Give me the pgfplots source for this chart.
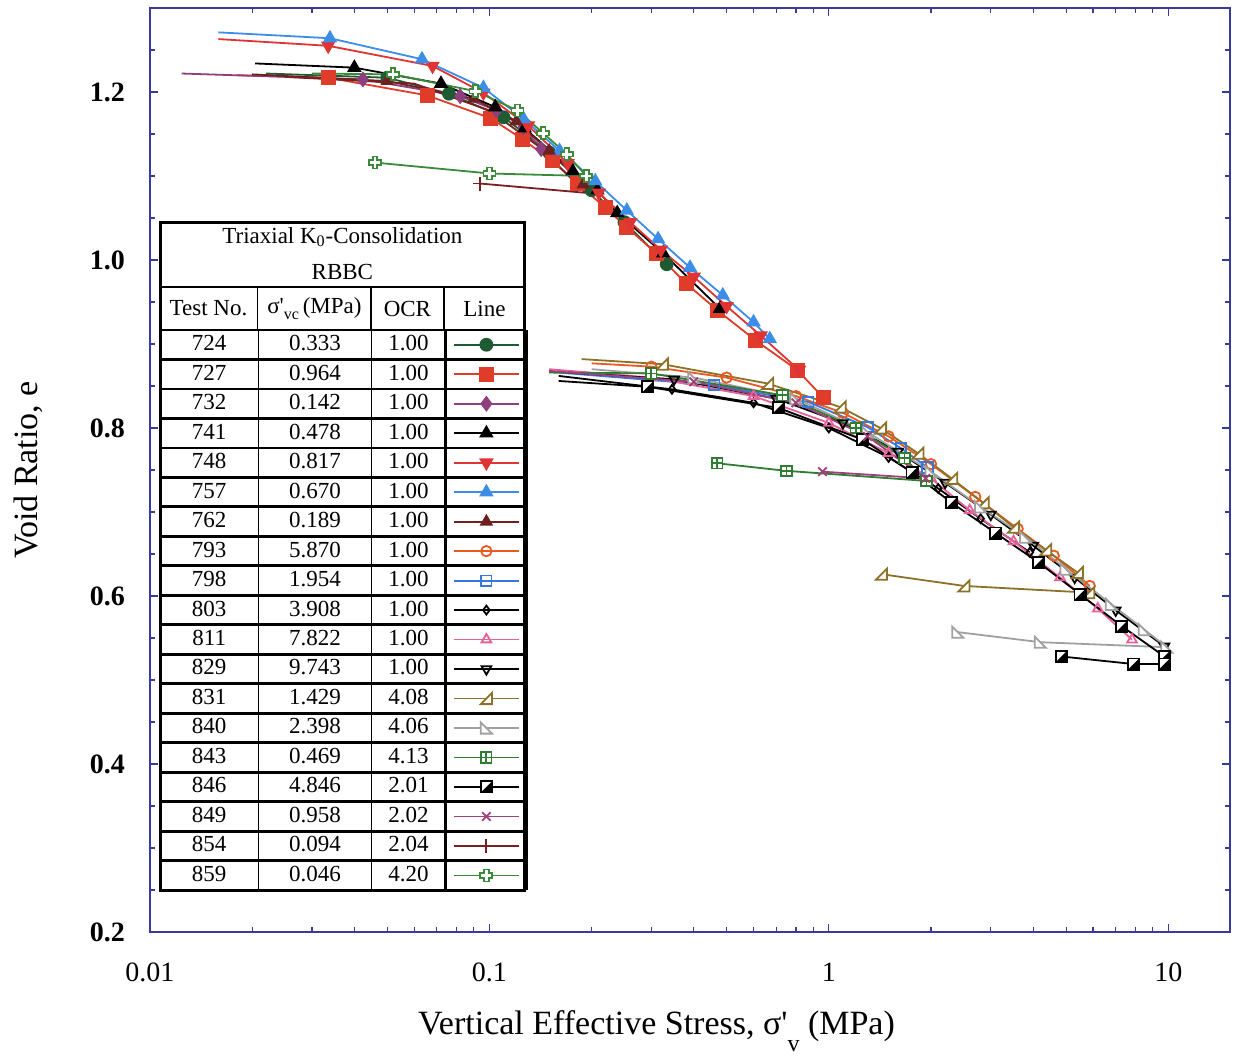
\documentclass[border=0pt]{standalone}
\usepackage{fontspec}
\setmainfont{Liberation Serif}
\usepackage{pgfplots}
\pgfplotsset{compat=1.18}

\definecolor{frame}{HTML}{3A3A9E}
\definecolor{c724}{HTML}{1E5A32}
\definecolor{c727}{HTML}{E03C2A}
\definecolor{c732}{HTML}{8E3F7E}
\definecolor{c748}{HTML}{E03434}
\definecolor{c757}{HTML}{3B8DE8}
\definecolor{c762}{HTML}{6E1F1F}
\definecolor{c793}{HTML}{E85A20}
\definecolor{c798}{HTML}{3478E0}
\definecolor{c811}{HTML}{E8609A}
\definecolor{c831}{HTML}{8C7228}
\definecolor{c840}{HTML}{A0A0A0}
\definecolor{c843}{HTML}{2E7D32}
\definecolor{c849}{HTML}{A0407A}
\definecolor{c854}{HTML}{7A2020}
\definecolor{c859}{HTML}{3A8A3A}

% extra mark shapes
\pgfdeclareplotmark{sqplus}{%
  \pgfpathrectangle{\pgfpoint{-\pgfplotmarksize}{-\pgfplotmarksize}}{\pgfpoint{2\pgfplotmarksize}{2\pgfplotmarksize}}%
  \pgfusepathqfillstroke
  \pgfpathmoveto{\pgfpoint{-\pgfplotmarksize}{0pt}}\pgfpathlineto{\pgfpoint{\pgfplotmarksize}{0pt}}%
  \pgfpathmoveto{\pgfpoint{0pt}{-\pgfplotmarksize}}\pgfpathlineto{\pgfpoint{0pt}{\pgfplotmarksize}}%
  \pgfusepathqstroke}
\pgfdeclareplotmark{halfsq}{%
  \pgfpathrectangle{\pgfpoint{-\pgfplotmarksize}{-\pgfplotmarksize}}{\pgfpoint{2\pgfplotmarksize}{2\pgfplotmarksize}}%
  \pgfusepathqfillstroke
  \pgfscope\pgfsetfillcolor{black}%
  \pgfpathmoveto{\pgfpoint{\pgfplotmarksize}{\pgfplotmarksize}}%
  \pgfpathlineto{\pgfpoint{\pgfplotmarksize}{-\pgfplotmarksize}}%
  \pgfpathlineto{\pgfpoint{-\pgfplotmarksize}{-\pgfplotmarksize}}%
  \pgfpathclose\pgfusepathqfill
  \endpgfscope}
\pgfdeclareplotmark{rtri}{%
  \pgfpathmoveto{\pgfpoint{-\pgfplotmarksize}{-\pgfplotmarksize}}%
  \pgfpathlineto{\pgfpoint{\pgfplotmarksize}{-\pgfplotmarksize}}%
  \pgfpathlineto{\pgfpoint{\pgfplotmarksize}{\pgfplotmarksize}}%
  \pgfpathclose\pgfusepathqfillstroke}
\pgfdeclareplotmark{ltri}{%
  \pgfpathmoveto{\pgfpoint{-\pgfplotmarksize}{\pgfplotmarksize}}%
  \pgfpathlineto{\pgfpoint{-\pgfplotmarksize}{-\pgfplotmarksize}}%
  \pgfpathlineto{\pgfpoint{\pgfplotmarksize}{-\pgfplotmarksize}}%
  \pgfpathclose\pgfusepathqfillstroke}
\pgfdeclareplotmark{pluso}{%
  \pgfpathmoveto{\pgfpoint{-0.38\pgfplotmarksize}{\pgfplotmarksize}}%
  \pgfpathlineto{\pgfpoint{0.38\pgfplotmarksize}{\pgfplotmarksize}}%
  \pgfpathlineto{\pgfpoint{0.38\pgfplotmarksize}{0.38\pgfplotmarksize}}%
  \pgfpathlineto{\pgfpoint{\pgfplotmarksize}{0.38\pgfplotmarksize}}%
  \pgfpathlineto{\pgfpoint{\pgfplotmarksize}{-0.38\pgfplotmarksize}}%
  \pgfpathlineto{\pgfpoint{0.38\pgfplotmarksize}{-0.38\pgfplotmarksize}}%
  \pgfpathlineto{\pgfpoint{0.38\pgfplotmarksize}{-\pgfplotmarksize}}%
  \pgfpathlineto{\pgfpoint{-0.38\pgfplotmarksize}{-\pgfplotmarksize}}%
  \pgfpathlineto{\pgfpoint{-0.38\pgfplotmarksize}{-0.38\pgfplotmarksize}}%
  \pgfpathlineto{\pgfpoint{-\pgfplotmarksize}{-0.38\pgfplotmarksize}}%
  \pgfpathlineto{\pgfpoint{-\pgfplotmarksize}{0.38\pgfplotmarksize}}%
  \pgfpathlineto{\pgfpoint{-0.38\pgfplotmarksize}{0.38\pgfplotmarksize}}%
  \pgfpathclose\pgfusepathqfillstroke}

% one table row of the legend: test no, stress, OCR
\newcommand{\trow}[3]{\rule[-4.05pt]{0pt}{14.04pt}\makebox[48.5pt]{#1}\vrule width 0.7pt\makebox[56pt]{#2}\vrule width 0.7pt\makebox[36pt]{#3}}

\begin{document}
\begin{tikzpicture}
\begin{axis}[
  scale only axis, width=540pt, height=462pt,
  xmode=log, xmin=0.01, xmax=15.2, ymin=0.2, ymax=1.3,
  xtick={0.01,0.1,1,10}, xticklabels={0.01,0.1,1,10},
  minor xtick={0.02,0.03,0.04,0.05,0.06,0.07,0.08,0.09,0.2,0.3,0.4,0.5,0.6,0.7,0.8,0.9,2,3,4,5,6,7,8,9},
  ytick={0.2,0.4,0.6,0.8,1.0,1.2}, yticklabels={0.2,0.4,0.6,0.8,1.0,1.2},
  minor ytick={0.25,0.3,0.35,0.45,0.5,0.55,0.65,0.7,0.75,0.85,0.9,0.95,1.05,1.1,1.15,1.25},
  axis line style={frame, line width=0.8pt},
  every tick/.style={frame, line width=0.6pt},
  major tick length=4pt, minor tick length=2.5pt,
  tick align=inside,
  xticklabel style={font=\fontsize{14}{16}\selectfont, yshift=-12pt},
  yticklabel style={font=\fontsize{14}{16}\selectfont\bfseries, xshift=-9pt},
  label style={font=\fontsize{17}{19}\selectfont},
  xlabel={Vertical Effective Stress, σ\textquotesingle\raisebox{-1.1ex}{\fontsize{12}{12}\selectfont v} (MPa)},
  ylabel={Void Ratio, e},
  xlabel style={at={(axis description cs:0.469,0)}, anchor=base, yshift=-51pt},
  ylabel style={at={(axis description cs:-0.113,0.5)}, anchor=center},
  legend plot pos=right,
  legend cell align=left,
  legend style={at={(0.00926,0.6515)}, anchor=north west, draw=none, fill=white,
    inner sep=0pt, outer sep=0pt, row sep=0pt, column sep=0pt,
    font=\fontsize{11.5}{13}\selectfont,
    nodes={inner sep=0pt, outer sep=0pt, draw=black, line width=0.7pt,
      text height=9.99pt, text depth=4.05pt}},
  every axis plot/.append style={line width=0.9pt,
    legend image code/.code={
      \draw[draw=black, line width=0.7pt, solid, fill=none, mark=none] (0pt,-7.02pt) rectangle (40.5pt,7.02pt);
      \draw[line width=0.9pt, mark indices={2}] plot coordinates {(4pt,0pt) (20.25pt,0pt) (36.5pt,0pt)};
    }},
]
% 724
\addplot[c724, mark=*, mark size=3pt, mark indices={2,3,4,5,6,7,8}] coordinates {
(0.022,1.222) (0.05,1.217) (0.076,1.198) (0.11,1.17) (0.15,1.128) (0.2,1.083) (0.25,1.045) (0.333,0.995)};
\addlegendentry{\trow{724}{0.333}{1.00}}
% 727
\addplot[c727, mark=square*, mark size=3.3pt, mark indices={2,3,4,5,6,7,8,9,10,11,12,13,14,15}] coordinates {
(0.018,1.22) (0.0335,1.217) (0.0655,1.196) (0.1005,1.169) (0.125,1.144) (0.153,1.118) (0.182,1.091) (0.22,1.062) (0.254,1.039) (0.31,1.008) (0.38,0.972) (0.47,0.94) (0.61,0.904) (0.807,0.869) (0.964,0.836)};
\addlegendentry{\trow{727}{0.964}{1.00}}
% 732
\addplot[c732, mark=diamond*, mark size=3.3pt, mark indices={2,3,4,5,6}] coordinates {
(0.0124,1.222) (0.0424,1.215) (0.082,1.195) (0.105,1.178) (0.126,1.158) (0.142,1.132)};
\addlegendentry{\trow{732}{0.142}{1.00}}
% 741
\addplot[black, mark=triangle*, mark size=3.3pt, mark indices={2,3,4,5,6,7,8,9,10}] coordinates {
(0.0204,1.234) (0.04,1.229) (0.072,1.21) (0.104,1.182) (0.127,1.157) (0.176,1.106) (0.208,1.083) (0.238,1.056) (0.325,1.008) (0.478,0.942)};
\addlegendentry{\trow{741}{0.478}{1.00}}
% 748
\addplot[c748, mark=triangle*, mark size=3.3pt, mark options={rotate=180}, mark indices={2,3,4,5,6,7,8,9,10,11,12,13}] coordinates {
(0.0159,1.263) (0.0335,1.255) (0.068,1.231) (0.096,1.199) (0.13,1.16) (0.17,1.115) (0.21,1.08) (0.26,1.045) (0.32,1.012) (0.4,0.98) (0.5,0.945) (0.63,0.91) (0.817,0.869)};
\addlegendentry{\trow{748}{0.817}{1.00}}
% 757
\addplot[c757, mark=triangle*, mark size=3.3pt, mark indices={2,3,4,5,6,7,8,9,10,11,12,13}] coordinates {
(0.0159,1.271) (0.0339,1.264) (0.0633,1.239) (0.096,1.205) (0.126,1.168) (0.161,1.13) (0.205,1.094) (0.254,1.059) (0.314,1.025) (0.39,0.991) (0.487,0.958) (0.6,0.926) (0.67,0.906)};
\addlegendentry{\trow{757}{0.670}{1.00}}
% 762
\addplot[c762, mark=triangle*, mark size=3pt, mark indices={2,3,4,5,6}] coordinates {
(0.02,1.221) (0.05,1.213) (0.09,1.192) (0.12,1.165) (0.15,1.13) (0.189,1.09)};
\addlegendentry{\trow{762}{0.189}{1.00}}
% 793
\addplot[c793, mark=o, mark size=2.6pt, mark options={fill=white}, mark indices={2,3,4,5,6,7,8,9,10,11}] coordinates {
(0.2,0.877) (0.3,0.873) (0.5,0.86) (0.8,0.838) (1.1,0.818) (1.5,0.79) (2.0,0.757) (2.7,0.718) (3.6,0.68) (4.6,0.648) (5.87,0.612)};
\addlegendentry{\trow{793}{5.870}{1.00}}
% 798
\addplot[c798, mark=square, mark size=2.6pt, mark options={fill=white}, mark indices={2,3,4,5,6}] coordinates {
(0.16,0.866) (0.46,0.851) (0.87,0.831) (1.3,0.801) (1.63,0.776) (1.954,0.753)};
\addlegendentry{\trow{798}{1.954}{1.00}}
% 803
\addplot[black, mark=diamond, mark size=2.2pt, mark options={fill=white}, mark indices={2,3,4,5,6,7,8}] coordinates {
(0.16,0.862) (0.345,0.846) (0.6,0.83) (1.0,0.8) (1.5,0.765) (2.1,0.728) (2.8,0.692) (3.908,0.652)};
\addlegendentry{\trow{803}{3.908}{1.00}}
% 811
\addplot[c811, mark=triangle, mark size=2.8pt, mark options={fill=white}, mark indices={2,3,4,5,6,7,8,9,10,11}] coordinates {
(0.15,0.87) (0.3,0.86) (0.6,0.838) (1.0,0.806) (1.5,0.77) (2.0,0.74) (2.6,0.702) (3.5,0.665) (4.8,0.622) (6.2,0.585) (7.822,0.548)};
\addlegendentry{\trow{811}{7.822}{1.00}}
% 829
\addplot[black, mark=triangle, mark size=2.8pt, mark options={fill=white, rotate=180}, mark indices={2,3,4,5,6,7,8,9,10,11}] coordinates {
(0.17,0.866) (0.35,0.858) (0.7,0.835) (1.1,0.806) (1.6,0.772) (2.2,0.735) (3.0,0.697) (4.0,0.66) (5.3,0.622) (7.0,0.583) (9.743,0.54)};
\addlegendentry{\trow{829}{9.743}{1.00}}
% 831
\addplot[c831, mark=rtri, mark size=2.8pt, mark options={fill=white}, mark indices={2,3,4,5,6,7,8,9,10,11,12,13,14}] coordinates {
(0.187,0.882) (0.323,0.876) (0.66,0.853) (1.08,0.825) (1.42,0.8) (1.83,0.77) (2.3,0.74) (2.85,0.711) (3.5,0.682) (4.35,0.655) (5.4,0.628) (5.83,0.604) (2.5,0.612) (1.429,0.626)};
\addlegendentry{\trow{831}{1.429}{4.08}}
% 840
\addplot[c840, mark=ltri, mark size=2.8pt, mark options={fill=white}, mark indices={2,3,4,5,6,7,8,9,10,11,12,13}] coordinates {
(0.2,0.87) (0.4,0.86) (0.8,0.835) (1.3,0.795) (2.0,0.748) (2.8,0.706) (3.8,0.67) (5.0,0.632) (6.8,0.59) (8.5,0.56) (9.9,0.539) (4.2,0.545) (2.398,0.557)};
\addlegendentry{\trow{840}{2.398}{4.06}}
% 843
\addplot[c843, mark=sqplus, mark size=2.6pt, mark options={fill=white}, mark indices={2,3,4,5,6,7,8}] coordinates {
(0.15,0.866) (0.3,0.865) (0.73,0.839) (1.2,0.8) (1.67,0.764) (1.94,0.737) (0.75,0.749) (0.469,0.758)};
\addlegendentry{\trow{843}{0.469}{4.13}}
% 846
\addplot[black, mark=halfsq, mark size=2.8pt, mark options={fill=white}, mark indices={2,3,4,5,6,7,8,9,10,11,12,13,14}] coordinates {
(0.16,0.856) (0.293,0.849) (0.71,0.824) (1.26,0.786) (1.76,0.747) (2.3,0.711) (3.1,0.675) (4.15,0.64) (5.5,0.602) (7.3,0.564) (9.74,0.528) (9.74,0.519) (7.9,0.519) (4.846,0.528)};
\addlegendentry{\trow{846}{4.846}{2.01}}
% 849
\addplot[c849, mark=x, mark size=3pt, mark indices={2,3,4,5,6}] coordinates {
(0.15,0.868) (0.4,0.855) (0.8,0.83) (1.3,0.79) (1.93,0.74) (0.958,0.748)};
\addlegendentry{\trow{849}{0.958}{2.02}}
% 854
\addplot[c854, mark=+, mark size=3.5pt, mark indices={6}] coordinates {
(0.025,1.218) (0.06,1.21) (0.1,1.178) (0.14,1.135) (0.192,1.08) (0.094,1.091)};
\addlegendentry{\trow{854}{0.094}{2.04}}
% 859
\addplot[c859, mark=pluso, mark size=3pt, mark options={fill=white}, mark indices={2,3,4,5,6,7,8,9}] coordinates {
(0.03,1.222) (0.052,1.221) (0.091,1.201) (0.121,1.178) (0.144,1.151) (0.169,1.126) (0.193,1.1) (0.1,1.103) (0.046,1.116)};
\addlegendentry{\trow{859}{0.046}{4.20}}

\coordinate (T) at (axis description cs:0.00926,0.6515);
\end{axis}

% table header above the legend rows
\begin{scope}[shift={(T)}, x=1pt, y=1pt, font=\fontsize{11.5}{13}\selectfont]
  \draw[fill=white, line width=0.7pt] (0,0) rectangle (182.4,54);
  \draw[line width=0.7pt] (0,21.5) -- (182.4,21.5)
    (48.85,0) -- (48.85,21.5) (105.55,0) -- (105.55,21.5) (141.9,0) -- (141.9,21.5);
  \node at (91.2,46.5) {Triaxial K\textsubscript{0}-Consolidation};
  \node at (91.2,29) {RBBC};
  \node at (24.25,10.75) {Test No.};
  \node at (77.2,10.75) {σ\textquotesingle\raisebox{-0.6ex}{\fontsize{8}{8}\selectfont vc}\,(MPa)};
  \node at (123.7,10.75) {OCR};
  \node at (162.2,10.75) {Line};
  \draw[line width=1.5pt] (0,-280.06) rectangle (182.4,54);
\end{scope}

\pgfresetboundingbox
\path[use as bounding box] (-75pt,-62.5pt) rectangle (543pt,466pt);
\end{tikzpicture}
\end{document}
